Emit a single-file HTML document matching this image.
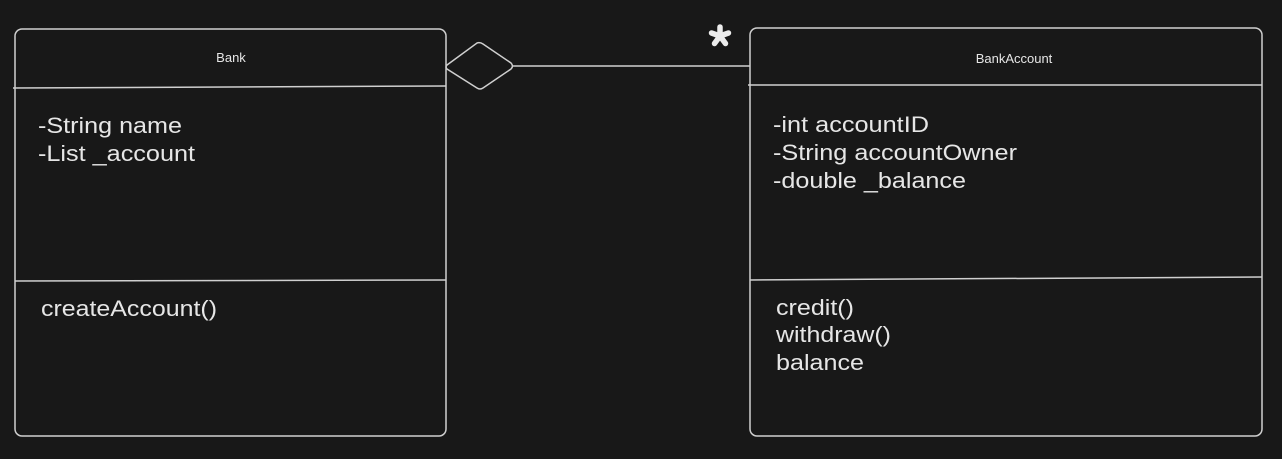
<!DOCTYPE html>
<html><head><meta charset="utf-8"><style>
html,body{margin:0;padding:0;background:#181818;}
svg{display:block}
text{font-family:"Liberation Sans",sans-serif;fill:#e6e6e6}
</style></head><body>
<svg width="1282" height="459" viewBox="0 0 1282 459">
<rect width="1282" height="459" fill="#181818"/>
<g fill="none" stroke="#cfcfcf" stroke-width="1.5">
<rect x="15" y="29" width="431" height="407" rx="7"/>
<line x1="13" y1="88" x2="446" y2="86"/>
<line x1="15" y1="281" x2="446" y2="280"/>
<rect x="750" y="28" width="512" height="408" rx="7"/>
<line x1="748" y1="85" x2="1262" y2="85"/>
<line x1="750" y1="280" x2="1262" y2="277"/>
<path d="M447 65 L477 43 Q480 42 483 44 L511 63 Q514 66 511 69 L483 88 Q480 90 477 88 L447 69 Q445 67 447 65 Z"/>
<line x1="513" y1="66" x2="750" y2="66"/>
</g>
<g stroke="#ececec" stroke-width="5.5" stroke-linecap="round">
<line x1="720" y1="36" x2="720" y2="27"/>
<line x1="720" y1="36" x2="728.5" y2="33"/>
<line x1="720" y1="36" x2="725.5" y2="43.5"/>
<line x1="720" y1="36" x2="714.5" y2="43.5"/>
<line x1="720" y1="36" x2="711.5" y2="33"/>
</g>
<text x="231" y="62" font-size="13" text-anchor="middle">Bank</text>
<text x="1014" y="63" font-size="13" text-anchor="middle">BankAccount</text>
<g font-size="22" lengthAdjust="spacingAndGlyphs">
<text x="38" y="133" textLength="144" lengthAdjust="spacingAndGlyphs">-String name</text>
<text x="38" y="161" textLength="157" lengthAdjust="spacingAndGlyphs">-List _account</text>
<text x="41" y="316" textLength="176" lengthAdjust="spacingAndGlyphs">createAccount()</text>
<text x="773" y="132" textLength="156" lengthAdjust="spacingAndGlyphs">-int accountID</text>
<text x="773" y="160" textLength="244" lengthAdjust="spacingAndGlyphs">-String accountOwner</text>
<text x="773" y="188" textLength="193" lengthAdjust="spacingAndGlyphs">-double _balance</text>
<text x="776" y="315" textLength="78" lengthAdjust="spacingAndGlyphs">credit()</text>
<text x="776" y="342" textLength="115" lengthAdjust="spacingAndGlyphs">withdraw()</text>
<text x="776" y="370" textLength="88" lengthAdjust="spacingAndGlyphs">balance</text>
</g>
</svg>
</body></html>
